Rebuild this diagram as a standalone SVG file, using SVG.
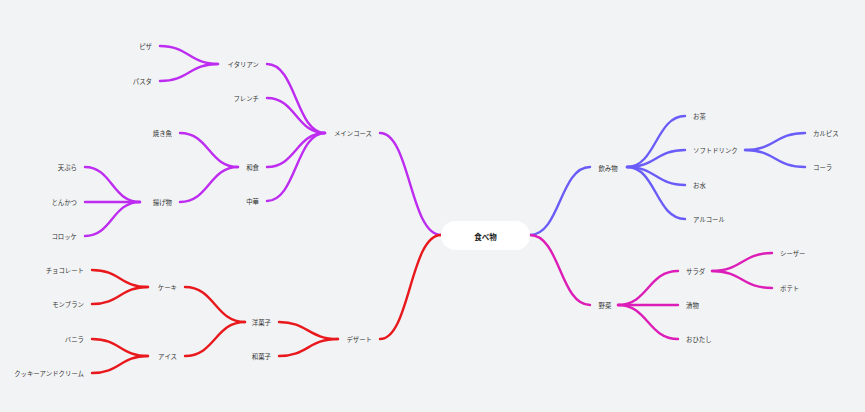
<svg xmlns="http://www.w3.org/2000/svg" width="865" height="412" viewBox="0 0 865 412">
<style>
text{font-family:"Noto Sans CJK JP","Noto Sans",sans-serif;font-size:6.4px;fill:#333;dominant-baseline:central}
.l{text-anchor:end}
.r{text-anchor:start}
.c{text-anchor:middle}
.root{font-size:7.5px;font-weight:bold;fill:#222}
path{fill:none;stroke-width:2.4;stroke-linecap:round}
.pu{stroke:#bd2cf0}
.rd{stroke:#e8181c}
.bl{stroke:#6a5cf8}
.mg{stroke:#dc1db8}
</style>
<rect width="865" height="412" fill="#f2f3f5"/>
<g id="connectors">
<path class="pu" d="M441 235 C410 235 410 133 380 133"/>
<path class="pu" d="M325 133 C296 133 296 64 267 64"/>
<path class="pu" d="M325 133 C296 133 296 98 267 98"/>
<path class="pu" d="M325 133 C296 133 296 167 267 167"/>
<path class="pu" d="M325 133 C296 133 296 201 267 201"/>
<path class="pu" d="M218 64 C189 64 189 46 160 46"/>
<path class="pu" d="M218 64 C189 64 189 81 160 81"/>
<path class="pu" d="M238 167 C209 167 209 133 180 133"/>
<path class="pu" d="M238 167 C209 167 209 202 180 202"/>
<path class="pu" d="M140 202 C112 202 112 167 85 167"/>
<path class="pu" d="M140 202 L85 202"/>
<path class="pu" d="M140 202 C112 202 112 236 85 236"/>
<path class="rd" d="M441 235 C410 235 410 339 380 339"/>
<path class="rd" d="M338 339 C308 339 308 322 279 322"/>
<path class="rd" d="M338 339 C308 339 308 356 279 356"/>
<path class="rd" d="M245 322 C215 322 215 287 185 287"/>
<path class="rd" d="M245 322 C215 322 215 356 185 356"/>
<path class="rd" d="M148 287 C120 287 120 270 92 270"/>
<path class="rd" d="M148 287 C120 287 120 304 92 304"/>
<path class="rd" d="M148 356 C120 356 120 339 92 339"/>
<path class="rd" d="M148 356 C120 356 120 373 92 373"/>
<path class="bl" d="M530 235 C560 235 560 167 590 167"/>
<path class="bl" d="M627 167 C656 167 656 116 685 116"/>
<path class="bl" d="M627 167 C656 167 656 150 685 150"/>
<path class="bl" d="M627 167 C656 167 656 185 685 185"/>
<path class="bl" d="M627 167 C656 167 656 219 685 219"/>
<path class="bl" d="M745 150 C775 150 775 133 805 133"/>
<path class="bl" d="M745 150 C775 150 775 167 805 167"/>
<path class="mg" d="M530 235 C560 235 560 305 590 305"/>
<path class="mg" d="M618 305 C648 305 648 271 678 271"/>
<path class="mg" d="M618 305 L678 305"/>
<path class="mg" d="M618 305 C648 305 648 339 678 339"/>
<path class="mg" d="M712 271 C742 271 742 253 772 253"/>
<path class="mg" d="M712 271 C742 271 742 288 772 288"/>
</g>
<g id="n-root"><rect x="441" y="221" width="89" height="29" rx="14.5" fill="#fff"/><text class="c root" x="485.5" y="236">食べ物</text></g>
<g id="n-main"><text class="l" x="372" y="133">メインコース</text></g>
<g id="n-italian"><text class="l" x="259" y="64">イタリアン</text></g>
<g id="n-pizza"><text class="l" x="152" y="46">ピザ</text></g>
<g id="n-pasta"><text class="l" x="152" y="81">パスタ</text></g>
<g id="n-french"><text class="l" x="259" y="98">フレンチ</text></g>
<g id="n-washoku"><text class="l" x="259" y="167">和食</text></g>
<g id="n-yakizakana"><text class="l" x="172" y="133">焼き魚</text></g>
<g id="n-agemono"><text class="l" x="172" y="202">揚げ物</text></g>
<g id="n-tempura"><text class="l" x="77" y="167">天ぷら</text></g>
<g id="n-tonkatsu"><text class="l" x="77" y="202">とんかつ</text></g>
<g id="n-korokke"><text class="l" x="77" y="236">コロッケ</text></g>
<g id="n-chuka"><text class="l" x="259" y="201">中華</text></g>
<g id="n-dessert"><text class="l" x="372" y="339">デザート</text></g>
<g id="n-yogashi"><text class="l" x="271" y="322">洋菓子</text></g>
<g id="n-wagashi"><text class="l" x="271" y="356">和菓子</text></g>
<g id="n-cake"><text class="l" x="177" y="287">ケーキ</text></g>
<g id="n-choco"><text class="l" x="84" y="270">チョコレート</text></g>
<g id="n-montblanc"><text class="l" x="84" y="304">モンブラン</text></g>
<g id="n-ice"><text class="l" x="177" y="356">アイス</text></g>
<g id="n-vanilla"><text class="l" x="84" y="339">バニラ</text></g>
<g id="n-cookie"><text class="l" x="84" y="373">クッキーアンドクリーム</text></g>
<g id="n-drinks"><text class="c" x="608" y="168">飲み物</text></g>
<g id="n-tea"><text class="r" x="693" y="116">お茶</text></g>
<g id="n-soft"><text class="r" x="693" y="150">ソフトドリンク</text></g>
<g id="n-calpis"><text class="r" x="813" y="133">カルピス</text></g>
<g id="n-cola"><text class="r" x="813" y="167">コーラ</text></g>
<g id="n-water"><text class="r" x="693" y="185">お水</text></g>
<g id="n-alcohol"><text class="r" x="693" y="219">アルコール</text></g>
<g id="n-veg"><text class="c" x="605" y="305">野菜</text></g>
<g id="n-salad"><text class="r" x="686" y="271">サラダ</text></g>
<g id="n-caesar"><text class="r" x="780" y="253">シーザー</text></g>
<g id="n-potato"><text class="r" x="780" y="288">ポテト</text></g>
<g id="n-tsukemono"><text class="r" x="686" y="305">漬物</text></g>
<g id="n-ohitashi"><text class="r" x="686" y="339">おひたし</text></g>
</svg>
